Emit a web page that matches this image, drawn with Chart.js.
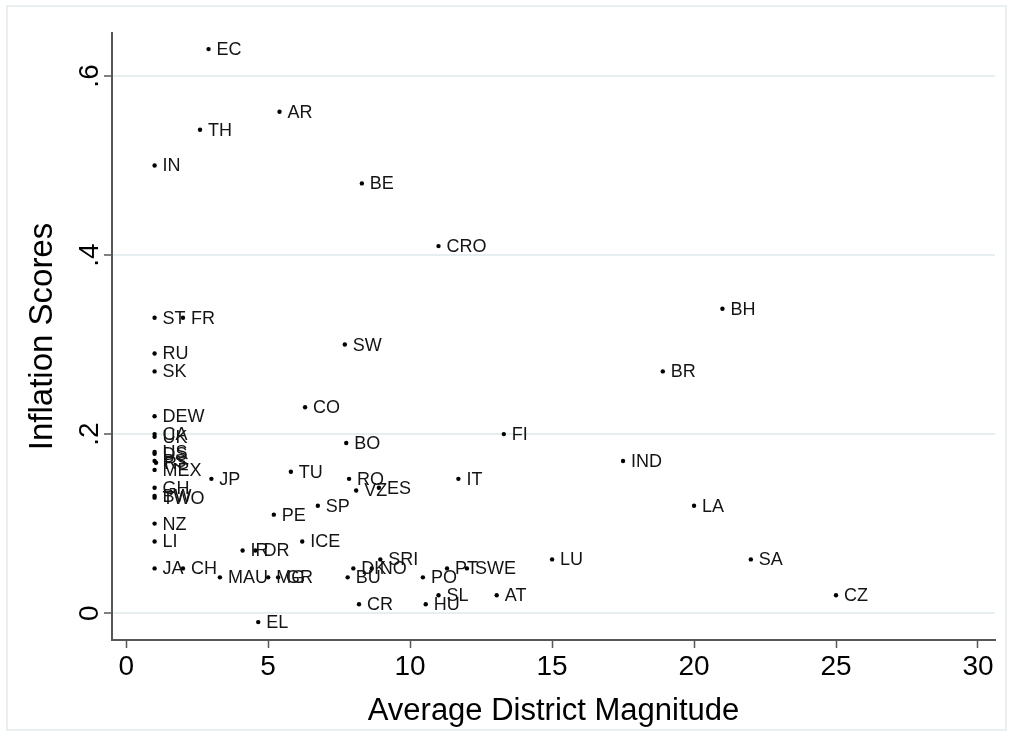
<!DOCTYPE html>
<html>
<head>
<meta charset="utf-8">
<script src="https://cdn.jsdelivr.net/npm/chart.js@4.4.1/dist/chart.umd.min.js"></script>
<style>
  html, body { margin: 0; padding: 0; background: #fff; }
  #wrap { position: relative; width: 1013px; height: 736px; }
</style>
</head>
<body>
<div id="wrap"><canvas id="scatter" width="1013" height="736"></canvas></div>
<script>
// country codes with district magnitude (x) and inflation score (y)
var codes = ["EC","AR","TH","IN","BE","CRO","BH","ST","FR","SW","RU","SK","BR","CO","DEW",
  "CA","UK","FI","BO","US","DS","PS","RS","IND","MEX","TU","JP","RO","IT","VZ","ES",
  "GH","BW","TWO","SP","LA","PE","NZ","ICE","LI","IR","DR","SRI","LU","SA","JA","CH",
  "DK","NO","PT","SWE","MAU","MG","GR","BU","PO","SL","AT","CZ","CR","HU","EL"];
var magnitude = [2.9,5.4,2.6,1,8.3,11,21,1,2,7.7,1,1,18.9,6.3,1,
  1,1,13.3,7.75,1,1,1,1.05,17.5,1,5.8,3.0,7.85,11.7,8.1,8.9,
  1,1,1,6.75,20,5.2,1,6.2,1,4.1,4.55,8.95,15,22,1,2.0,
  8.0,8.65,11.3,12.0,3.3,5.0,5.35,7.8,10.45,11.0,13.05,25,8.2,10.55,4.65];
var inflation = [0.63,0.56,0.54,0.50,0.48,0.41,0.34,0.33,0.33,0.30,0.29,0.27,0.27,0.23,0.22,
  0.20,0.197,0.20,0.19,0.18,0.178,0.17,0.168,0.17,0.16,0.158,0.15,0.15,0.15,0.137,0.14,
  0.14,0.131,0.129,0.12,0.12,0.11,0.10,0.08,0.08,0.07,0.07,0.06,0.06,0.06,0.05,0.05,
  0.05,0.05,0.05,0.05,0.04,0.04,0.04,0.04,0.04,0.02,0.02,0.02,0.01,0.01,-0.01];
var xTicks = [0, 5, 10, 15, 20, 25, 30];
var yTicks = [0, 0.2, 0.4, 0.6];

var points = magnitude.map(function (x, i) { return { x: x, y: inflation[i] }; });
var font = "'Liberation Sans', Arial, Helvetica, sans-serif";

// writes each country code just right of its dot
var codeLabels = {
  id: 'codeLabels',
  afterDatasetsDraw: function (chart) {
    var ctx = chart.ctx;
    var meta = chart.getDatasetMeta(0);
    ctx.save();
    ctx.font = '18px ' + font;
    ctx.fillStyle = '#141414';
    ctx.textBaseline = 'middle';
    ctx.textAlign = 'left';
    meta.data.forEach(function (pt, i) {
      ctx.fillText(codes[i], pt.x + 8, pt.y + 1);
    });
    ctx.restore();
  }
};

// faint outer frame of the graph region
var frame = {
  id: 'frame',
  beforeDraw: function (chart) {
    var ctx = chart.ctx;
    ctx.save();
    ctx.strokeStyle = '#e9eff1';
    ctx.lineWidth = 2;
    ctx.strokeRect(7, 6, chart.width - 14, chart.height - 12);
    ctx.restore();
  }
};

new Chart(document.getElementById('scatter'), {
  type: 'scatter',
  data: {
    datasets: [{
      data: points,
      backgroundColor: '#000',
      borderWidth: 0,
      pointRadius: 2.2,
      pointHoverRadius: 2.2
    }]
  },
  options: {
    responsive: false,
    animation: false,
    events: [],
    layout: { padding: { top: 33, right: 18, left: 0, bottom: 0 } },
    plugins: { legend: { display: false }, tooltip: { enabled: false } },
    scales: {
      x: {
        type: 'linear',
        min: -0.5,
        max: 30.6,
        afterBuildTicks: function (s) { s.ticks = xTicks.map(function (v) { return { value: v }; }); },
        afterFit: function (s) { s.height = 96; },
        border: { color: '#575757', width: 2 },
        grid: { drawOnChartArea: false, tickLength: 8, tickColor: '#575757', tickWidth: 1.5 },
        ticks: { color: '#000', font: { family: font, size: 28 }, padding: 2, maxRotation: 0 },
        title: { display: true, text: 'Average District Magnitude', color: '#000',
          font: { family: font, size: 31 }, padding: { top: 0, bottom: 6 } }
      },
      y: {
        type: 'linear',
        min: -0.03,
        max: 0.648,
        afterBuildTicks: function (s) { s.ticks = yTicks.map(function (v) { return { value: v }; }); },
        afterFit: function (s) { s.width = 112; },
        border: { color: '#575757', width: 2 },
        grid: { color: '#e6eef0', lineWidth: 2, tickLength: 8, tickColor: '#575757', tickWidth: 1.5 },
        ticks: {
          color: '#000', font: { family: font, size: 28 }, padding: 2,
          minRotation: 90, maxRotation: 90, crossAlign: 'center',
          callback: function (v) { return v === 0 ? '0' : String(+v.toFixed(1)).replace(/^0/, ''); }
        },
        title: { display: true, text: 'Inflation Scores', color: '#000',
          font: { family: font, size: 33 }, padding: { top: 23, bottom: 0 } }
      }
    }
  },
  plugins: [frame, codeLabels]
});
</script>
</body>
</html>
